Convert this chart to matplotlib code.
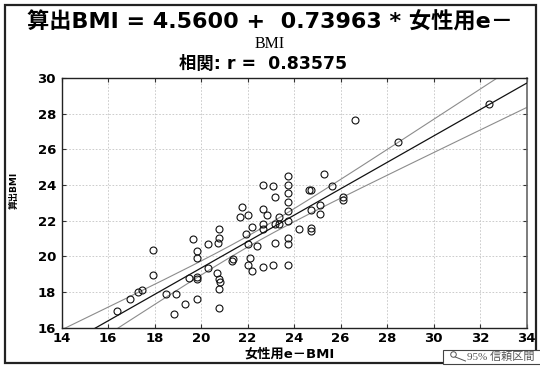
import numpy as np
import matplotlib
matplotlib.use("Agg")
import matplotlib.pyplot as plt
from matplotlib.patches import Rectangle
from matplotlib.lines import Line2D

# 女性用e-BMI (x) と 算出BMI (y)
e_bmi = [16.37, 16.96, 17.28, 17.45, 17.92, 17.92, 18.51, 18.84, 18.91, 19.33,
         19.48, 19.64, 19.81, 19.83, 19.83, 19.83, 19.83, 20.30, 20.31, 20.70,
         20.72, 20.79, 20.79, 20.79, 20.80, 20.79, 20.79, 21.32, 21.38, 21.68,
         21.78, 21.94, 22.01, 22.02, 22.03, 22.12, 22.19, 22.19, 22.42, 22.65,
         22.68, 22.68, 22.68, 22.68, 22.85, 23.08, 23.08, 23.17, 23.17, 23.17,
         23.34, 23.37, 23.74, 23.74, 23.74, 23.74, 23.74, 23.74, 23.74, 23.74,
         23.74, 24.23, 24.63, 24.72, 24.72, 24.72, 24.72, 25.12, 25.12, 25.30,
         25.63, 26.12, 26.12, 26.61, 28.49, 32.40]
calc_bmi = [16.96, 17.63, 18.02, 18.11, 18.97, 20.39, 17.91, 16.77, 17.91, 17.34,
            18.78, 20.97, 20.29, 19.90, 18.87, 18.74, 17.62, 20.69, 19.34, 19.08,
            20.78, 21.06, 21.54, 18.76, 18.58, 18.18, 17.14, 19.75, 19.85, 22.23,
            22.79, 21.25, 19.55, 20.69, 22.31, 19.94, 21.64, 19.18, 20.59, 21.82,
            21.53, 22.68, 24.01, 19.43, 22.31, 23.94, 19.55, 23.35, 21.84, 20.78,
            22.20, 21.82, 24.51, 24.01, 23.54, 23.06, 22.57, 21.99, 21.06, 20.69,
            19.55, 21.54, 23.73, 23.73, 22.59, 21.60, 21.45, 22.89, 22.40, 24.61,
            23.94, 23.35, 23.17, 27.65, 26.42, 28.54]

intercept = 4.5600
slope = 0.73963
r_value = 0.83575

x_ticks = [14, 16, 18, 20, 22, 24, 26, 28, 30, 32, 34]
y_ticks = [16, 18, 20, 22, 24, 26, 28, 30]

x = np.array(e_bmi)
y = np.array(calc_bmi)
n = len(x)

# 95% 信頼区間 (回帰直線)
resid = y - (intercept + slope * x)
s = np.sqrt(np.sum(resid ** 2) / (n - 2))
t_crit = 1.993
sxx = np.sum((x - x.mean()) ** 2)
xs = np.linspace(x_ticks[0], x_ticks[-1], 200)
fit = intercept + slope * xs
half = t_crit * s * np.sqrt(1.0 / n + (xs - x.mean()) ** 2 / sxx)

fig = plt.figure(figsize=(5.4, 3.68), dpi=100)
ax = fig.add_axes([0.114, 0.109, 0.861, 0.679])

ax.plot(xs, fit + half, color="#8c8c8c", lw=0.8, zorder=2)
ax.plot(xs, fit - half, color="#8c8c8c", lw=0.8, zorder=2)
ax.plot(xs, fit, color="#111111", lw=0.9, zorder=3)
ax.plot(x, y, "o", mfc="none", mec="#111111", mew=0.8, ms=5, zorder=4)

ax.set_xlim(x_ticks[0], x_ticks[-1])
ax.set_ylim(y_ticks[0], y_ticks[-1])
ax.set_xticks(x_ticks)
ax.set_yticks(y_ticks)
ax.grid(True, color="#c4c4c4", lw=0.6, ls=(0, (2, 2)))
ax.tick_params(direction="in", length=3, width=0.8, top=True, right=True,
               labelsize=9.5, color="#333333")
ax.tick_params(axis="x", pad=3)
ax.tick_params(axis="y", pad=4)
for lab in ax.get_xticklabels() + ax.get_yticklabels():
    lab.set_fontweight("bold")
for side in ["left", "bottom", "top"]:
    ax.spines[side].set_color("#222222")
    ax.spines[side].set_linewidth(1.0)
ax.spines["right"].set_color("#666666")
ax.spines["right"].set_linewidth(1.2)

cjk = ["DejaVu Sans", "Noto Sans CJK JP"]
ax.set_xlabel("女性用e－BMI", family=cjk, fontweight="bold", fontsize=9.5)
ax.xaxis.set_label_coords(0.49, -0.08)
ax.set_ylabel("算出BMI", family=cjk, fontweight="bold", fontsize=6.5)
ax.yaxis.set_label_coords(-0.091, 0.55)

fig.text(0.5, 0.94, "算出BMI = 4.5600 +  0.73963 * 女性用e－", family=cjk,
         fontweight="bold", fontsize=16, ha="center", va="center")
fig.text(0.5, 0.88, "BMI", family="Liberation Serif", fontsize=11.5,
         ha="center", va="center")
fig.text(0.488, 0.826, "相関: r =  %.5f" % r_value, family=cjk,
         fontweight="bold", fontsize=12.5, ha="center", va="center")

# 外枠
fig.add_artist(Rectangle((0.009, 0.014), 0.983, 0.972, transform=fig.transFigure,
                         fill=False, ec="#222222", lw=1.6))

# 凡例
fig.add_artist(Rectangle((0.82, 0.01), 0.185, 0.04, transform=fig.transFigure,
                         fill=True, fc="white", ec="#444444", lw=0.8))
fig.add_artist(Line2D([0.838], [0.037], transform=fig.transFigure, marker="o",
                      mfc="none", mec="#555555", ms=4, mew=0.7))
fig.add_artist(Line2D([0.843, 0.862], [0.030, 0.019], transform=fig.transFigure,
                      color="#555555", lw=0.7))
fig.text(0.865, 0.031, "95% 信頼区間", family=["Liberation Serif", "Noto Sans CJK JP"],
         fontsize=8, color="#555555", ha="left", va="center")

fig.savefig("out.png", dpi=100)
